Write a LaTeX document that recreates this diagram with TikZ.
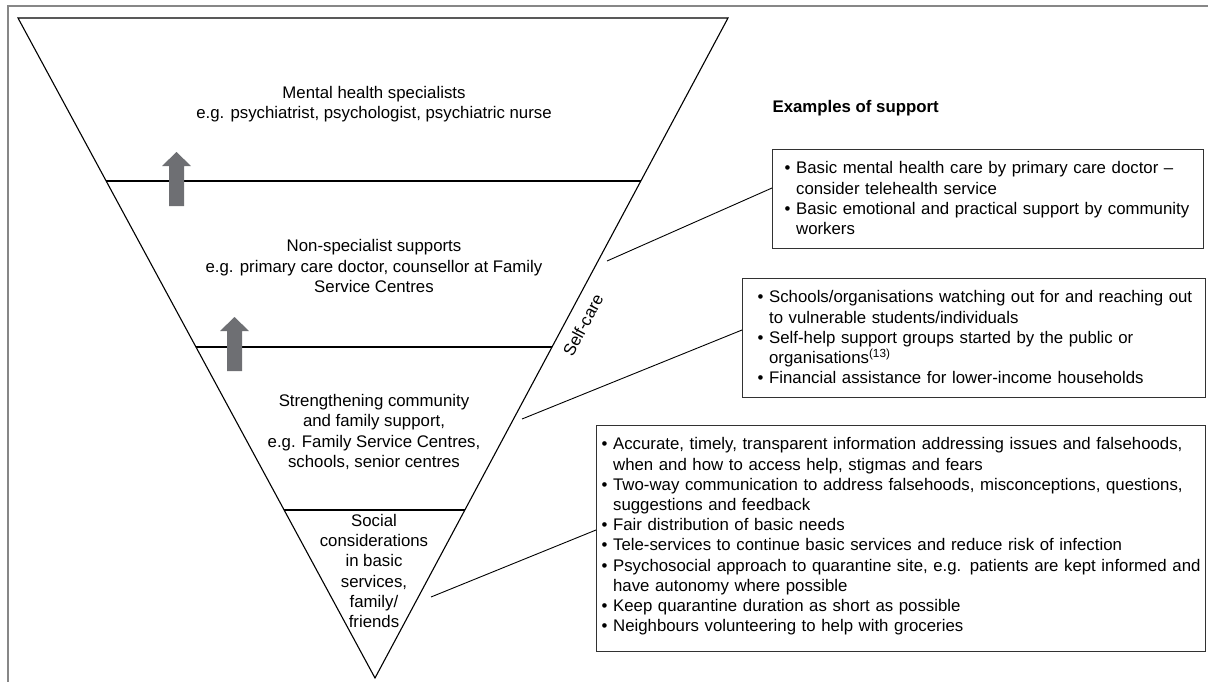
\documentclass[tikz,border=0pt]{standalone}
\usepackage{fontspec}
\setmainfont{Liberation Sans}
\usetikzlibrary{calc}

\definecolor{arrowgrey}{RGB}{110,111,115}
\definecolor{framegrey}{RGB}{135,135,135}
\definecolor{boxgrey}{RGB}{50,50,50}

% one line of a bullet list: new item, or continued item
\newcommand{\bul}[1]{\mbox{\textbullet\ #1}}
\newcommand{\hang}[1]{\mbox{\phantom{\textbullet\ }#1}}
% grey block arrow pointing up, #1 = centre x, #2 = bottom y
\newcommand{\liftarrow}[2]{\fill[arrowgrey] (#1-7.5,#2) -- ++(15,0) -- ++(0,-40) -- ++(7,0) -- ++(-14.5,-14) -- ++(-14.5,14) -- ++(7,0) -- cycle;}

\tikzset{
  level/.style={align=center,inner sep=0pt},
  exbox/.style={draw=boxgrey,line width=1.3pt,align=left,anchor=north west,inner xsep=12pt,inner ysep=12pt},
}

\begin{document}
\begin{tikzpicture}[x=1pt,y=-1pt,line width=1.1pt,font=\fontsize{16.8}{20.2}\selectfont]
\useasboundingbox (0,0) rectangle (1208,681);
\draw[framegrey,line width=1.5pt] (8,690) -- (8,6) -- (1215,6);
% funnel
\coordinate (tl) at (18,18); \coordinate (tr) at (728,18); \coordinate (ap) at (375,678);
\draw (tl) -- (tr) -- (ap) -- cycle;
\foreach \t in {0.247,0.4985,0.7455}
  \draw ($(tl)!\t!(ap)$) -- ($(tr)!\t!(ap)$);
\liftarrow{176.5}{206}
\liftarrow{234.5}{371}

\node[level] (spec) at (374,104) {Mental health specialists\\e.g. psychiatrist, psychologist, psychiatric nurse};
\node[level] (nonspec) at (374,266) {Non-specialist supports\\e.g. primary care doctor, counsellor at Family\\Service Centres};
\node[level] (comm) at (374,432) {Strengthening community\\and family support,\\e.g. Family Service Centres,\\schools, senior centres};
\node[level] (social) at (374,571) {Social\\considerations\\in basic\\services,\\family/\\friends};
\node[rotate=62,inner sep=0pt] (selfcare) at (583,325) {Self-care};

% examples
\node[anchor=base west,inner sep=0pt,font=\fontsize{16.8}{20.2}\selectfont\bfseries] (examples) at (772,112) {Examples of support};
\node[exbox,text width=407pt,text depth=63pt] (nonspecbox) at (772,149)
  {\bul{Basic mental health care by primary care doctor --}\\
   \hang{consider telehealth service}\\
   \bul{Basic emotional and practical support by community}\\
   \hang{workers}};
\node[exbox,inner xsep=15pt,text width=433pt,text depth=83pt] (commbox) at (742,278)
  {\bul{Schools/organisations watching out for and reaching out}\\
   \hang{to vulnerable students/individuals}\\
   \bul{Self-help support groups started by the public or}\\
   \hang{organisations\textsuperscript{(13)}}\\
   \bul{Financial assistance for lower-income households}};
\node[exbox,inner xsep=5pt,text width=599pt,text depth=190pt] (socialbox) at (596,425)
  {\bul{Accurate, timely, transparent information addressing issues and falsehoods,}\\
   \hang{when and how to access help, stigmas and fears}\\
   \bul{Two-way communication to address falsehoods, misconceptions, questions,}\\
   \hang{suggestions and feedback}\\
   \bul{Fair distribution of basic needs}\\
   \bul{Tele-services to continue basic services and reduce risk of infection}\\
   \bul{Psychosocial approach to quarantine site, e.g. patients are kept informed and}\\
   \hang{have autonomy where possible}\\
   \bul{Keep quarantine duration as short as possible}\\
   \bul{Neighbours volunteering to help with groceries}};

% connectors
\coordinate (c1) at (607,261); \coordinate (c2) at (522,419); \coordinate (c3) at (431,597);
\draw[line width=0.9pt] (c1) -- ([yshift=-39pt]nonspecbox.north west);
\draw[line width=0.9pt] (c2) -- ([yshift=-52pt]commbox.north west);
\draw[line width=0.9pt] (c3) -- ([yshift=-105pt]socialbox.north west);
\end{tikzpicture}
\end{document}
